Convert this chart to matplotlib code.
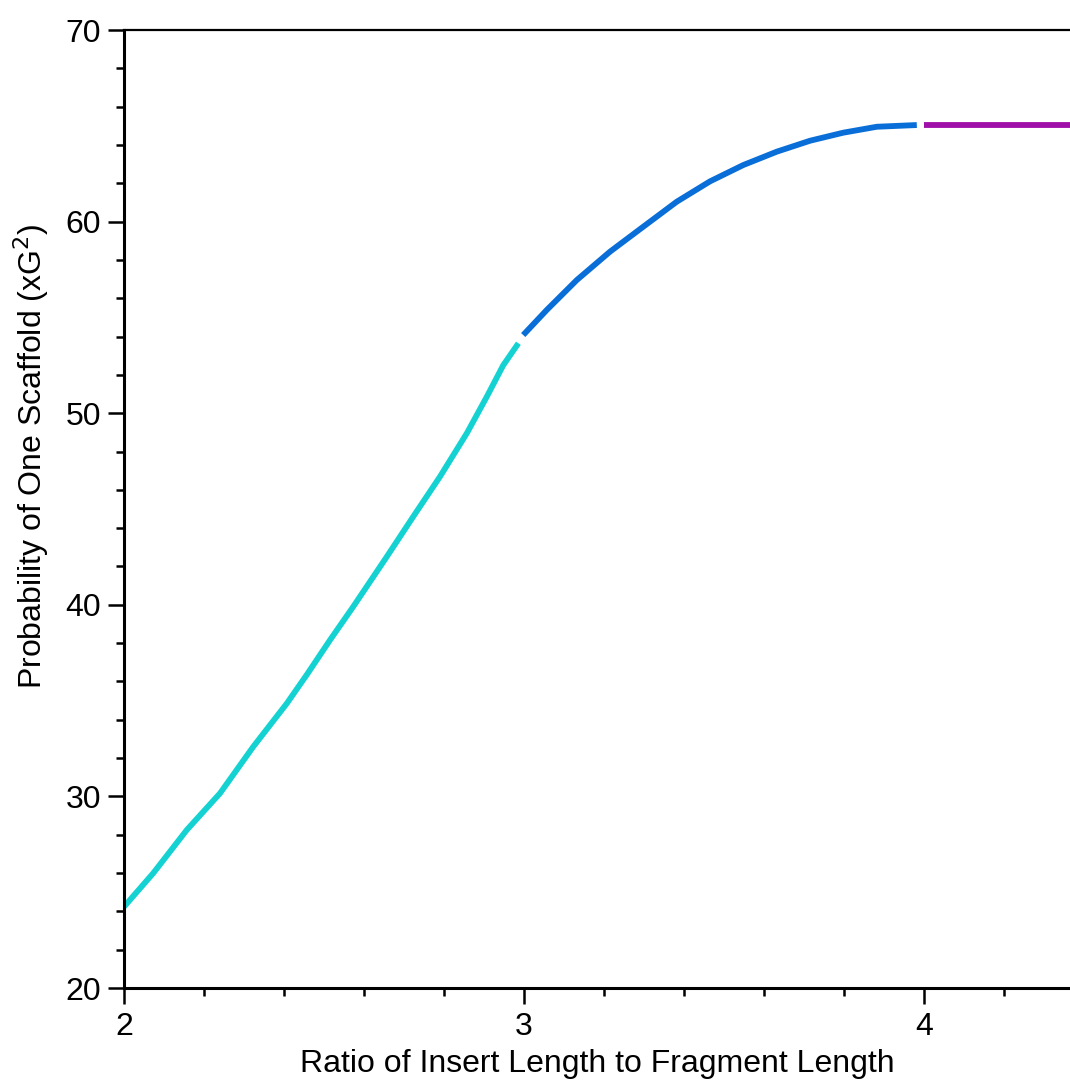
import matplotlib
matplotlib.use("Agg")
import matplotlib.pyplot as plt
from matplotlib.ticker import MultipleLocator

plt.rcParams['font.family'] = ['Liberation Sans', 'DejaVu Sans']

# 读图得到的数据点
x_low = [2.0, 2.073, 2.157, 2.24, 2.323, 2.407, 2.457, 2.515, 2.573, 2.657,
         2.723, 2.79, 2.857, 2.907, 2.948, 2.986]
y_low = [24.24, 25.99, 28.25, 30.16, 32.59, 34.85, 36.35, 38.16, 39.90, 42.51,
         44.60, 46.69, 48.95, 50.86, 52.50, 53.65]

x_mid = [2.998, 3.057, 3.132, 3.215, 3.298, 3.382, 3.465, 3.548, 3.632, 3.715,
         3.798, 3.882, 3.982]
y_mid = [54.08, 55.39, 56.95, 58.43, 59.73, 61.04, 62.10, 62.95, 63.65, 64.22,
         64.64, 64.95, 65.04]

x_high = [4.0, 4.4]
y_high = [65.04, 65.04]

fig = plt.figure(figsize=(10.7, 10.82), dpi=100)
ax = fig.add_axes([124 / 1070, 1 - 988 / 1082, 1 - 124 / 1070, 958 / 1082])

lw = 4.2
ax.plot(x_low, y_low, color='#14d2d2', lw=lw, solid_capstyle='butt')
ax.plot(x_mid, y_mid, color='#0a6ed8', lw=lw, solid_capstyle='butt')
ax.plot(x_high, y_high, color='#a010a8', lw=lw, solid_capstyle='butt')

ax.set_xlim(2, 2 + 946 / 400)
ax.set_ylim(20, 70)

ax.xaxis.set_major_locator(MultipleLocator(1))
ax.xaxis.set_minor_locator(MultipleLocator(0.2))
ax.yaxis.set_major_locator(MultipleLocator(10))
ax.yaxis.set_minor_locator(MultipleLocator(2))

ax.spines['right'].set_visible(False)
ax.spines['top'].set_linewidth(1.6)
ax.spines['left'].set_linewidth(2.2)
ax.spines['bottom'].set_linewidth(2.2)

ax.tick_params(which='major', direction='out', length=11.5, width=1.8,
               labelsize=23, pad=5)
ax.tick_params(which='minor', direction='out', length=5.5, width=1.8)
ax.tick_params(top=False, right=False, which='both')
ax.tick_params(axis='x', which='major', pad=6)

ax.set_xlabel('Ratio of Insert Length to Fragment Length', fontsize=23, labelpad=5)
ax.set_ylabel('Probability of One Scaffold (xG$^2$)', fontsize=23)
ax.yaxis.set_label_coords(-0.077, 0.555)

fig.savefig('out.png', dpi=100)
plt.close()
